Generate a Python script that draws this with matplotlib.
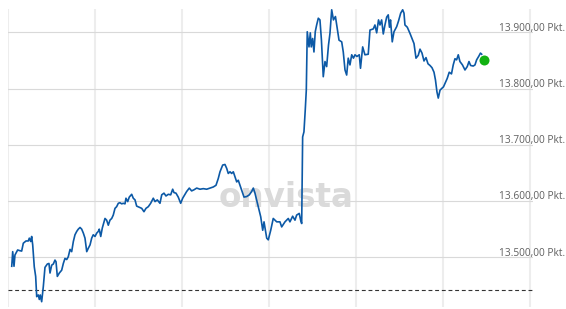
import numpy as np
import matplotlib
matplotlib.use("Agg")
import matplotlib.pyplot as plt

# Intraday-Verlauf (Zeit in Stunden ab erster Gitterlinie, Kurs in Punkten)
stunden = [
    0.043, 0.054, 0.069, 0.080, 0.111, 0.130, 0.157, 0.176, 0.207, 0.233,
    0.245, 0.261, 0.272, 0.284, 0.302, 0.318, 0.330, 0.348, 0.360, 0.371,
    0.387, 0.406, 0.425, 0.452, 0.471, 0.483, 0.502, 0.521, 0.540, 0.552,
    0.567, 0.590, 0.617, 0.636, 0.655, 0.675, 0.693, 0.713, 0.732, 0.751,
    0.770, 0.790, 0.808, 0.828, 0.847, 0.866, 0.885, 0.905, 0.923, 0.943,
    0.962, 0.980, 1.000, 1.020, 1.038, 1.049, 1.066, 1.084, 1.115, 1.134,
    1.153, 1.172, 1.192, 1.210, 1.230, 1.249, 1.268, 1.287, 1.307, 1.325,
    1.345, 1.356, 1.376, 1.394, 1.422, 1.440, 1.460, 1.479, 1.509, 1.537,
    1.563, 1.586, 1.613, 1.640, 1.670, 1.690, 1.716, 1.747, 1.767, 1.793,
    1.816, 1.843, 1.870, 1.893, 1.908, 1.931, 1.957, 1.985, 2.008, 2.034,
    2.054, 2.084, 2.111, 2.138, 2.169, 2.207, 2.245, 2.284, 2.322, 2.360,
    2.391, 2.417, 2.437, 2.468, 2.494, 2.514, 2.532, 2.552, 2.571, 2.590,
    2.609, 2.629, 2.647, 2.667, 2.686, 2.713, 2.744, 2.774, 2.801, 2.820,
    2.839, 2.877, 2.905, 2.928, 2.943, 2.974, 2.992, 3.020, 3.049, 3.089,
    3.126, 3.146, 3.184, 3.222, 3.241, 3.272, 3.299, 3.318, 3.348, 3.364,
    3.376, 3.387, 3.402, 3.417, 3.429, 3.440, 3.460, 3.475, 3.486, 3.502,
    3.517, 3.532, 3.548, 3.567, 3.586, 3.603, 3.624, 3.644, 3.663, 3.684,
    3.701, 3.721, 3.741, 3.764, 3.787, 3.805, 3.836, 3.854, 3.874, 3.893,
    3.911, 3.931, 3.951, 3.971, 3.989, 4.011, 4.038, 4.052, 4.077, 4.103,
    4.141, 4.161, 4.199, 4.218, 4.238, 4.259, 4.276, 4.295, 4.314, 4.333,
    4.353, 4.371, 4.385, 4.397, 4.417, 4.437, 4.468, 4.489, 4.514, 4.537,
    4.552, 4.563, 4.590, 4.621, 4.644, 4.667, 4.690, 4.716, 4.736, 4.759,
    4.782, 4.805, 4.828, 4.851, 4.874, 4.897, 4.914, 4.931, 4.946, 4.966,
    4.985, 5.006, 5.023, 5.049, 5.072, 5.098, 5.118, 5.138, 5.157, 5.176,
    5.195, 5.224, 5.253, 5.279, 5.299, 5.318, 5.348, 5.368, 5.387, 5.414,
    5.431, 5.445,
]
kurs = [
    13484, 13510, 13484, 13504, 13513, 13512, 13511, 13525, 13529, 13529,
    13534, 13528, 13537, 13522, 13483, 13466, 13430, 13433, 13425, 13433,
    13421, 13448, 13482, 13488, 13489, 13472, 13486, 13488, 13495, 13492,
    13466, 13472, 13477, 13489, 13498, 13496, 13501, 13514, 13510, 13528,
    13540, 13546, 13550, 13553, 13550, 13543, 13534, 13510, 13516, 13522,
    13534, 13540, 13537, 13543, 13546, 13550, 13537, 13552, 13569, 13566,
    13557, 13566, 13569, 13575, 13587, 13590, 13596, 13597, 13595, 13596,
    13595, 13605, 13599, 13607, 13612, 13605, 13602, 13591, 13589, 13587,
    13581, 13587, 13590, 13596, 13605, 13599, 13602, 13596, 13611, 13614,
    13609, 13612, 13611, 13621, 13615, 13614, 13607, 13596, 13605, 13612,
    13617, 13623, 13618, 13620, 13623, 13621, 13622, 13621, 13623, 13625,
    13628, 13640, 13652, 13664, 13665, 13658, 13649, 13652, 13649, 13652,
    13643, 13634, 13637, 13628, 13620, 13607, 13608, 13611, 13617, 13623,
    13614, 13590, 13572, 13548, 13563, 13534, 13531, 13548, 13569, 13563,
    13563, 13554, 13563, 13569, 13563, 13573, 13566, 13575, 13578, 13566,
    13560, 13714, 13723, 13762, 13797, 13901, 13874, 13899, 13874, 13889,
    13865, 13901, 13913, 13925, 13922, 13886, 13821, 13848, 13839, 13877,
    13898, 13940, 13922, 13928, 13904, 13886, 13883, 13865, 13833, 13824,
    13854, 13842, 13860, 13854, 13860, 13857, 13860, 13836, 13874, 13860,
    13861, 13904, 13906, 13913, 13899, 13922, 13913, 13922, 13897, 13913,
    13927, 13931, 13909, 13922, 13883, 13901, 13910, 13920, 13934, 13940,
    13934, 13913, 13909, 13898, 13889, 13880, 13854, 13859, 13870, 13863,
    13849, 13855, 13844, 13841, 13837, 13829, 13815, 13794, 13783, 13797,
    13800, 13803, 13809, 13818, 13829, 13826, 13842, 13853, 13851, 13860,
    13848, 13842, 13833, 13839, 13848, 13841, 13840, 13842, 13851, 13858,
    13863, 13861,
]

letzter_zeitpunkt = 5.471
letzter_kurs = 13850
vortag_schluss = 13441

y_ticks = [13500, 13600, 13700, 13800, 13900]
x_gitter = [0, 1, 2, 3, 4, 5, 6]


def punkte_label(wert):
    s = f"{wert:,.2f}".replace(",", "X").replace(".", ",").replace("X", ".")
    return f"{s} Pkt."


fig = plt.figure(figsize=(5.66, 3.09), dpi=100)
ax = fig.add_axes([8 / 566, 2 / 309, 525 / 566, 298 / 309])
ax.set_xlim(0, 6.035)
ax.set_ylim(13411.6, 13941.4)

for s in ax.spines.values():
    s.set_visible(False)
ax.set_xticks([])
ax.set_yticks([])

for xg in x_gitter:
    ax.axvline(xg, color="#ededed", linewidth=1.5, zorder=0)
for yt in y_ticks:
    ax.axhline(yt, color="#d9d9d9", linewidth=0.8, zorder=0.5)
    ax.annotate(punkte_label(yt), xy=(5.644, yt), xytext=(0, 1.2),
                textcoords="offset points", ha="left", va="baseline",
                fontsize=7.3, family="Open Sans", color="#5f5f5f",
                annotation_clip=False, zorder=3)

ax.axhline(vortag_schluss, color="#333333", linewidth=0.8,
           linestyle=(0, (3.5, 2.5)), zorder=1)

ax.text(0.5292, 0.3346, "onvista", transform=ax.transAxes, ha="center",
        va="baseline", fontsize=23.5, fontweight="bold",
        family="DejaVu Sans", color="#dadada", zorder=1)

ax.plot(stunden, kurs, color="#0c59a6", linewidth=1.2, zorder=4)
ax.plot([letzter_zeitpunkt], [letzter_kurs], "o", color="#12b112",
        markersize=7.2, markeredgewidth=0, zorder=5, clip_on=False)

fig.savefig("out.png", dpi=100)
